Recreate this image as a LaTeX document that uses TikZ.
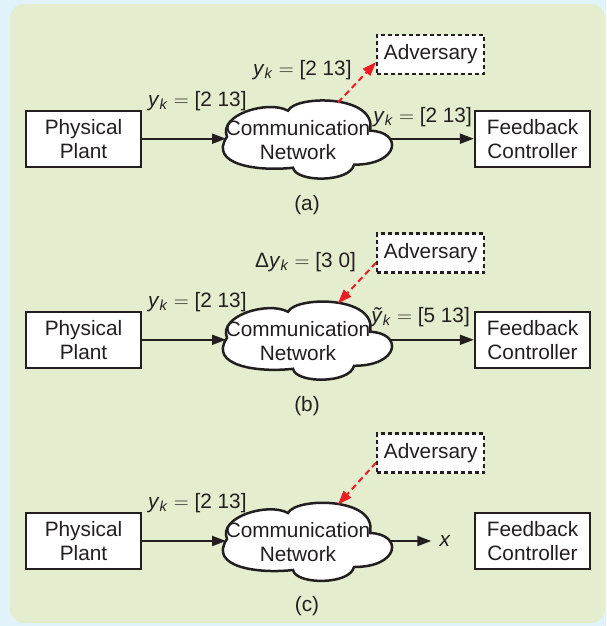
\documentclass[tikz,border=0pt]{standalone}
\usepackage{fontspec}
\setmainfont{Liberation Sans}
\usetikzlibrary{arrows.meta}
\definecolor{bgblue}{RGB}{224,243,251}
\definecolor{bggreen}{RGB}{228,237,205}
\definecolor{advred}{RGB}{237,28,36}
\definecolor{ink}{RGB}{35,31,32}
\newcommand{\mycloud}[2]{%
  \draw[cloudline,shift={(#1,#2)}] (-81,-3)
    .. controls (-90,-25) and (-40,-40) .. (-20,-29)
    .. controls (-12,-45) and (70,-45) .. (62,-9)
    .. controls (95,-8) and (92,25) .. (46,25)
    .. controls (42,43) and (-12,43) .. (-15,28)
    .. controls (-50,32) and (-100,25) .. (-81,-3) -- cycle;}
\tikzset{
  every node/.style={font=\fontsize{20.8}{24}\selectfont, text=ink, inner sep=0pt},
  blockbox/.style={draw=ink, line width=2.3pt, fill=white, minimum width=115pt, minimum height=56pt, align=center},
  advbox/.style={draw=ink, line width=2.3pt, fill=white, dash pattern=on 4pt off 3pt, minimum width=107pt, minimum height=39pt},
  cloudline/.style={draw=ink, line width=2.5pt, fill=white},
  nettext/.style={align=center, minimum width=164pt, minimum height=50pt},
  flow/.style={draw=ink, line width=2pt, -{Triangle[length=14pt,width=10pt]}},
  attack/.style={draw=advred, line width=2pt, dash pattern=on 6pt off 4pt, -{Triangle[length=14pt,width=10pt,fill=advred]}},
  lbl/.style={}
}
\newcommand{\yk}{\textit{y}\textsubscript{\textit{k}}}
\newcommand{\eqs}{{\fontsize{22}{24}\selectfont$=$}}
\begin{document}
\begin{tikzpicture}[x=1pt,y=-1pt]
\useasboundingbox (0,0) rectangle (606,626);
\fill[bgblue] (0,0) rectangle (606,626);
\fill[bggreen, rounded corners=14pt] (10,4) rectangle (605,623);

% ---------- panel (a)
\node[blockbox] (plantA) at (83.5,138.7) {Physical\\Plant};
\node[blockbox] (fbA) at (532.5,138.7) {Feedback\\Controller};
\node[advbox] (advA) at (430.7,54.5) {Adversary};
\mycloud{308}{139.7}
\node[nettext] (netA) at (298,139.7) {Communication\\Network};
\coordinate (netAin) at (226,138.7);
\coordinate (netAout) at (390,138.7);
\coordinate (netAtop) at (338,102.5);
\draw[flow] (plantA) -- (netAin);
\draw[flow] (netAout) -- (fbA);
\draw[attack] (netAtop) -- (advA.188);
\node[lbl, anchor=base west] (lA1) at (148,106.5) {\yk{} \eqs{} [2 13]};
\node[lbl, anchor=base west] (lA2) at (253,75) {\yk{} \eqs{} [2 13]};
\node[lbl, anchor=base east] (lA3) at (472,122) {\yk{} \eqs{} [2 13]};
\node (capA) at (307,205) {(a)};

% ---------- panel (b)
\node[blockbox] (plantB) at (83.5,339.8) {Physical\\Plant};
\node[blockbox] (fbB) at (532.5,339.8) {Feedback\\Controller};
\node[advbox] (advB) at (430.7,253) {Adversary};
\mycloud{308}{340.8}
\node[nettext] (netB) at (298,340.8) {Communication\\Network};
\coordinate (netBin) at (226,339.8);
\coordinate (netBout) at (390,339.8);
\coordinate (netBtop) at (338,303.3);
\draw[flow] (plantB) -- (netBin);
\draw[flow] (netBout) -- (fbB);
\draw[attack] (advB.190) -- (netBtop);
\node[lbl, anchor=base west] (lB1) at (148,307.5) {\yk{} \eqs{} [2 13]};
\node[lbl, anchor=base west] (lB2) at (255,267.5) {Δ\yk{} \eqs{} [3 0]};
\node[lbl, anchor=base east] (lB3) at (470,322) {\textit{ỹ}\textsubscript{\textit{k}} \eqs{} [5 13]};
\node (capB) at (307,406) {(b)};

% ---------- panel (c)
\node[blockbox] (plantC) at (83.5,541) {Physical\\Plant};
\node[blockbox] (fbC) at (532.5,541) {Feedback\\Controller};
\node[advbox] (advC) at (430.7,453) {Adversary};
\mycloud{308}{542}
\node[nettext] (netC) at (298,542) {Communication\\Network};
\coordinate (netCin) at (226,541);
\coordinate (netCout) at (390,541);
\coordinate (netCtop) at (338,504.5);
\node (xC) at (445,541) {\textit{x}};
\draw[flow] (plantC) -- (netCin);
\draw[flow] (netCout) -- ([xshift=-8pt]xC.west);
\draw[attack] (advC.190) -- (netCtop);
\node[lbl, anchor=base west] (lC1) at (148,508.5) {\yk{} \eqs{} [2 13]};
\node (capC) at (307,606) {(c)};
\end{tikzpicture}
\end{document}
